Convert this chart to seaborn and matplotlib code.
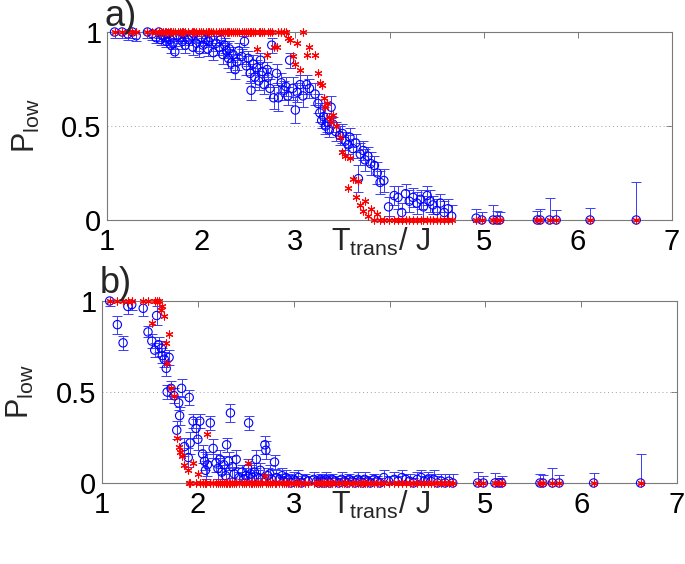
import numpy as np
import pandas as pd
import matplotlib
matplotlib.use("Agg")
import matplotlib.pyplot as plt
import seaborn as sns

# ---------------- data ----------------
T = [1.08, 1.16, 1.22, 1.27, 1.31, 1.43, 1.48, 1.52, 1.55, 1.57,
     1.59, 1.62, 1.63, 1.65, 1.67, 1.68, 1.70, 1.72, 1.75, 1.78,
     1.80, 1.81, 1.83, 1.86, 1.90, 1.91, 1.92, 1.95, 1.98, 2.00,
     2.02, 2.05, 2.07, 2.08, 2.10, 2.13, 2.16, 2.19, 2.21, 2.23,
     2.25, 2.27, 2.29, 2.30, 2.32, 2.34, 2.36, 2.38, 2.40, 2.43,
     2.46, 2.48, 2.50, 2.52, 2.53, 2.55, 2.57, 2.59, 2.61, 2.63,
     2.65, 2.67, 2.70, 2.71, 2.73, 2.75, 2.77, 2.80, 2.82, 2.85,
     2.88, 2.90, 2.92, 2.94, 2.97, 3.00, 3.02, 3.05, 3.08, 3.12,
     3.15, 3.21, 3.24, 3.26, 3.28, 3.30, 3.32, 3.34, 3.36, 3.38,
     3.40, 3.43, 3.47, 3.50, 3.53, 3.56, 3.58, 3.61, 3.64, 3.67,
     3.69, 3.72, 3.74, 3.77, 3.80, 3.84, 3.87, 3.90, 3.94, 3.99,
     4.05, 4.09, 4.13, 4.17, 4.21, 4.25, 4.29, 4.33, 4.36, 4.40,
     4.43, 4.46, 4.50, 4.54, 4.58, 4.62, 4.66, 4.92, 4.98, 5.10,
     5.14, 5.17, 5.57, 5.60, 5.70, 5.77, 6.13, 6.62]

# panel a)
pa_blue = [1.00, 1.00, 0.99, 1.00, 0.98, 1.00, 0.99, 0.97, 1.00, 0.96,
           0.98, 0.97, 0.95, 0.99, 0.96, 0.93, 0.94, 0.895, 0.98, 0.97,
           0.95, 0.99, 0.93, 0.96, 0.98, 0.92, 0.99, 0.94, 0.905, 0.97,
           0.93, 0.96, 0.91, 0.95, 0.97, 0.89, 0.94, 0.92, 0.96, 0.88,
           0.93, 0.90, 0.86, 0.91, 0.835, 0.88, 0.80, 0.84, 0.90, 0.87,
           0.95, 0.82, 0.86, 0.78, 0.69, 0.83, 0.76, 0.81, 0.74, 0.85,
           0.79, 0.72, 0.80, 0.76, 0.70, 0.93, 0.65, 0.78, 0.65, 0.73,
           0.69, 0.71, 0.66, 0.85, 0.70, 0.585, 0.68, 0.72, 0.66, 0.72,
           0.70, 0.67, 0.62, 0.57, 0.53, 0.55, 0.50, 0.52, 0.48, 0.60,
           0.51, 0.47, 0.45, 0.46, 0.42, 0.40, 0.44, 0.38, 0.41, 0.22,
           0.35, 0.37, 0.32, 0.34, 0.30, 0.29, 0.25, 0.20, 0.21, 0.07,
           0.13, 0.12, 0.04, 0.14, 0.10, 0.12, 0.09, 0.11, 0.07, 0.13,
           0.10, 0.08, 0.05, 0.09, 0.04, 0.06, 0.02, 0.01, 0.00, 0.00,
           0.00, 0.00, 0.00, 0.00, 0.00, 0.00, 0.00, 0.00]
err_a = [0.03, 0.03, 0.03, 0.03, 0.03, 0.03, 0.03, 0.03, 0.03, 0.03,
         0.03, 0.04, 0.03, 0.03, 0.03, 0.04, 0.03, 0.03, 0.03, 0.03,
         0.04, 0.03, 0.04, 0.03, 0.03, 0.04, 0.03, 0.04, 0.04, 0.03,
         0.04, 0.03, 0.04, 0.03, 0.03, 0.04, 0.04, 0.04, 0.03, 0.05,
         0.04, 0.04, 0.05, 0.04, 0.05, 0.04, 0.05, 0.04, 0.04, 0.04,
         0.03, 0.05, 0.04, 0.05, 0.05, 0.05, 0.05, 0.04, 0.05, 0.04,
         0.05, 0.05, 0.04, 0.05, 0.05, 0.04, 0.06, 0.05, 0.07, 0.05,
         0.05, 0.05, 0.05, 0.04, 0.06, 0.07, 0.05, 0.05, 0.06, 0.05,
         0.05, 0.06, 0.05, 0.05, 0.04, 0.05, 0.04, 0.05, 0.04, 0.06,
         0.04, 0.05, 0.05, 0.05, 0.05, 0.05, 0.05, 0.05, 0.05, 0.07,
         0.06, 0.05, 0.06, 0.05, 0.06, 0.05, 0.06, 0.06, 0.06, 0.05,
         0.05, 0.06, 0.05, 0.05, 0.06, 0.05, 0.06, 0.05, 0.06, 0.05,
         0.06, 0.05, 0.06, 0.05, 0.06, 0.05, 0.06, 0.05, 0.04, 0.08,
         0.05, 0.04, 0.05, 0.06, 0.115, 0.055, 0.065, 0.20]
pa_red = [1, 1, 1, 1, 1, 1, 1, 1, 1, 1,
          1, 1, 1, 1, 1, 1, 1, 1, 1, 1,
          1, 1, 1, 1, 1, 1, 1, 1, 1, 1,
          1, 1, 1, 1, 1, 1, 1, 1, 1, 1,
          1, 1, 1, 1, 1, 1, 1, 1, 1, 1,
          1, 1, 1, 1, 1, 1, 1, 0.91, 1, 1,
          1, 1, 0.88, 1, 1, 1, 0.92, 0.92, 1, 1,
          1, 1, 0.97, 0.96, 0.87, 0.83, 0.94, 0.80, 1, 0.88,
          0.92, 0.88, 0.78, 0.73, 0.72, 0.65, 0.60, 0.62, 0.55, 0.52,
          0.56, 0.50, 0.44, 0.36, 0.34, 0.17, 0.33, 0.22, 0.12, 0.21,
          0.08, 0.05, 0.10, 0.02, 0.06, 0.00, 0.03, 0.00, 0.00, 0.00,
          0, 0, 0, 0, 0, 0, 0, 0, 0, 0,
          0, 0, 0, 0, 0, 0, 0, 0, 0, 0,
          0, 0, 0, 0, 0, 0, 0, 0]

# panel b)
pb_blue = [1.00, 0.87, 0.77, 0.97, 0.98, 0.96, 0.83, 0.78, 0.73, 0.92,
           0.76, 0.74, 0.70, 0.68, 0.63, 0.50, 0.69, 0.52, 0.48, 0.29,
           0.44, 0.37, 0.52, 0.20, 0.14, 0.47, 0.22, 0.34, 0.30, 0.24,
           0.34, 0.16, 0.12, 0.07, 0.10, 0.33, 0.19, 0.11, 0.08, 0.13,
           0.06, 0.10, 0.04, 0.21, 0.12, 0.385, 0.09, 0.05, 0.13, 0.03,
           0.06, 0.02, 0.04, 0.08, 0.33, 0.05, 0.03, 0.06, 0.13, 0.03,
           0.07, 0.02, 0.21, 0.18, 0.04, 0.05, 0.02, 0.115, 0.03, 0.02,
           0.04, 0.01, 0.03, 0.02, 0.00, 0.02, 0.01, 0.03, 0.00, 0.02,
           0.01, 0.02, 0.01, 0.00, 0.02, 0.01, 0.00, 0.02, 0.01, 0.00,
           0.02, 0.01, 0.00, 0.02, 0.01, 0.00, 0.02, 0.01, 0.00, 0.02,
           0.01, 0.00, 0.02, 0.01, 0.00, 0.02, 0.01, 0.00, 0.03, 0.01,
           0.02, 0.01, 0.03, 0.02, 0.01, 0.00, 0.02, 0.03, 0.01, 0.02,
           0.01, 0.02, 0.00, 0.01, 0.00, 0.01, 0.00, 0.00, 0.00, 0.00,
           0.00, 0.00, 0.00, 0.00, 0.00, 0.00, 0.00, 0.00]
err_b = [0.03, 0.05, 0.04, 0.04, 0.03, 0.04, 0.03, 0.04, 0.04, 0.05,
         0.04, 0.04, 0.04, 0.04, 0.04, 0.04, 0.04, 0.04, 0.04, 0.05,
         0.04, 0.05, 0.05, 0.05, 0.05, 0.04, 0.06, 0.04, 0.05, 0.06,
         0.04, 0.05, 0.05, 0.05, 0.06, 0.04, 0.05, 0.05, 0.06, 0.05,
         0.04, 0.05, 0.04, 0.04, 0.05, 0.05, 0.06, 0.04, 0.05, 0.03,
         0.04, 0.03, 0.04, 0.05, 0.04, 0.05, 0.03, 0.05, 0.05, 0.04,
         0.04, 0.03, 0.05, 0.05, 0.04, 0.05, 0.03, 0.04, 0.04, 0.03,
         0.04, 0.03, 0.04, 0.03, 0.03, 0.04, 0.03, 0.04, 0.03, 0.03,
         0.03, 0.04, 0.03, 0.03, 0.03, 0.03, 0.03, 0.04, 0.03, 0.03,
         0.03, 0.03, 0.03, 0.04, 0.03, 0.03, 0.03, 0.03, 0.03, 0.04,
         0.03, 0.03, 0.04, 0.03, 0.03, 0.03, 0.03, 0.03, 0.04, 0.03,
         0.04, 0.03, 0.04, 0.03, 0.04, 0.03, 0.04, 0.04, 0.03, 0.04,
         0.04, 0.05, 0.04, 0.04, 0.05, 0.04, 0.05, 0.06, 0.04, 0.055,
         0.03, 0.04, 0.05, 0.045, 0.08, 0.045, 0.055, 0.16]
pb_red = [1, 1, 1, 1, 1, 1, 1, 0.88, 1, 1,
          1, 0.95, 0.97, 0.92, 0.77, 0.66, 0.82, 0.52, 0.48, 0.25,
          0.20, 0.17, 0.15, 0.10, 0.07, 0, 0, 0.11, 0, 0.05,
          0, 0, 0, 0, 0.27, 0, 0, 0, 0, 0,
          0, 0, 0, 0, 0, 0, 0, 0, 0, 0,
          0, 0, 0, 0.11, 0, 0, 0, 0, 0, 0,
          0, 0, 0.04, 0, 0, 0, 0, 0, 0, 0,
          0, 0, 0, 0, 0, 0, 0, 0, 0, 0,
          0, 0, 0, 0, 0, 0, 0, 0, 0, 0,
          0, 0, 0, 0, 0, 0, 0, 0, 0, 0,
          0, 0, 0, 0, 0, 0, 0, 0, 0, 0,
          0, 0, 0, 0, 0, 0, 0, 0, 0, 0,
          0, 0, 0, 0, 0, 0, 0, 0, 0, 0,
          0, 0, 0, 0, 0, 0, 0, 0]

x_ticks = [1, 2, 3, 4, 5, 6, 7]
x_tick_labels = ["1", "2", "3", "", "5", "6", "7"]
y_ticks = [0, 0.5, 1]
y_tick_labels = ["0", "0.5", "1"]
panel_labels = ["a)", "b)"]
x_label = "T$_\\mathregular{trans}$/ J"
y_label = "P$_\\mathregular{low}$"

# ---------------- style ----------------
sns.set_style("white")
plt.rcParams["font.family"] = ["Liberation Sans", "DejaVu Sans"]
plt.rcParams["mathtext.fontset"] = "custom"
plt.rcParams["mathtext.rm"] = "Liberation Sans"
plt.rcParams["mathtext.it"] = "Liberation Sans:italic"

fig = plt.figure(figsize=(6.85, 5.64), dpi=100)
ax_a = fig.add_axes([107 / 685, 1 - 220 / 564, 565 / 685, 188 / 564])
ax_b = fig.add_axes([102 / 685, 1 - 483 / 564, 575 / 685, 182 / 564])

spine_col = "#7a7a7a"
panels = [(ax_a, pa_blue, err_a, pa_red), (ax_b, pb_blue, err_b, pb_red)]
for i, (ax, pblue, err, pred) in enumerate(panels):
    df = pd.DataFrame({"T": T, "P": pblue, "err": err, "Pred": pred})
    ax.axhline(0.5, color="#a0a0a0", lw=0.7, ls=(0, (1, 3)), zorder=1)
    ax.errorbar(df["T"], df["P"], yerr=df["err"], fmt="none",
                ecolor="#3a3aff", elinewidth=0.7, capsize=3.8, capthick=0.7,
                zorder=2)
    sns.scatterplot(data=df, x="T", y="P", ax=ax, marker="o", s=36,
                    facecolor="none", edgecolor="blue", linewidth=0.8,
                    clip_on=False, zorder=3, legend=False)
    sns.scatterplot(data=df, x="T", y="Pred", ax=ax, marker=(6, 2, 0), s=26,
                    color="red", edgecolor="red", linewidth=0.8,
                    clip_on=False, zorder=4, legend=False)
    ax.set_xlim(1, 7)
    ax.set_ylim(0, 1)
    ax.set_xticks(x_ticks)
    ax.set_xticklabels(x_tick_labels)
    ax.set_yticks(y_ticks)
    ax.set_yticklabels(y_tick_labels)
    ax.tick_params(axis="both", direction="in", length=4, width=0.7,
                   color=spine_col, labelsize=21, top=True, right=True,
                   labelcolor="black")
    ax.tick_params(axis="x", pad=6)
    ax.tick_params(axis="y", pad=4)
    for s in ax.spines.values():
        s.set_color(spine_col)
        s.set_linewidth(0.8)
    ax.set_xlabel(x_label, fontsize=22)
    ax.xaxis.set_label_coords(0.485, -0.03)
    ax.set_ylabel(y_label, fontsize=22)
    ax.yaxis.set_label_coords(-0.115, 0.5)

fig.text(104 / 685, 1 - 26 / 564, panel_labels[0], fontsize=26, va="baseline")
fig.text(100 / 685, 1 - 293 / 564, panel_labels[1], fontsize=26, va="baseline")

fig.savefig("out.png", dpi=100)
